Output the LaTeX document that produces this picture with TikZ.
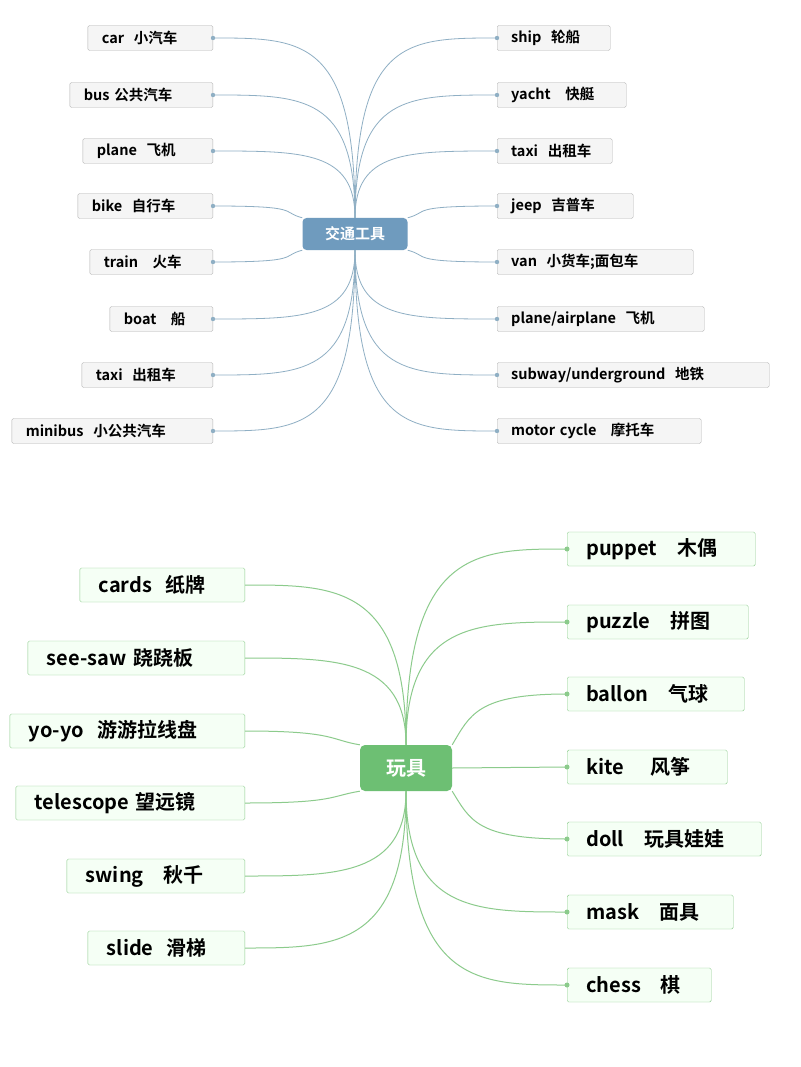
\documentclass[tikz,border=0pt]{standalone}
\usepackage{fontspec}
\setmainfont{Noto Sans CJK SC}[BoldFont={Noto Sans CJK SC Bold}]
\begin{document}
\definecolor{bl}{HTML}{6F9BBE}
\definecolor{bline}{HTML}{8FAFC4}
\definecolor{gr}{HTML}{6DBF73}
\definecolor{gline}{HTML}{8CCB8C}
\tikzset{
 lfa/.style={draw=gray!60, fill=gray!8, rounded corners=1.5pt, minimum height=25pt, inner xsep=14pt, text width=#1pt-28pt, align=left, font=\bfseries\fontsize{14.5}{16}\selectfont},
 lfb/.style={draw=gline, fill=green!4, rounded corners=1.5pt, minimum height=34pt, inner xsep=19pt, text width=#1pt-38pt, align=left, font=\bfseries\fontsize{20}{22}\selectfont},
 ca/.style={bline, line width=0.8pt},
 cb/.style={gline, line width=1pt}
}
\begin{tikzpicture}[x=1pt,y=-1pt]
\useasboundingbox[fill=white] (0,0) rectangle (800,1067);
\node[fill=bl, rounded corners=4pt, minimum width=105pt, minimum height=32pt, text=white, font=\bfseries\fontsize{15}{17}\selectfont] (c1) at (355,234) {交通工具};
\foreach \i/\y/\w/\t/\a/\c in {1/38/125/{car\ \ 小汽车}/north/{(355,38)}, 2/95/143/{bus\ 公共汽车}/north/{(355,95)}, 3/151/130/{plane\ \ 飞机}/north/{(355,151)}, 4/206/135/{bike\ \ 自行车}/north west/{(280,212)}, 5/262/123/{train\ \ \ 火车}/south west/{(280,256)}, 6/319/103/{boat\ \ \ 船}/south/{(355,319)}, 7/375/131/{taxi\ \ 出租车}/south/{(355,375)}, 8/431/201/{minibus\ \ 小公共汽车}/south/{(355,431)}}{
 \node[lfa=\w, anchor=east] (L\i) at (213,\y) {\t};
 \draw[ca] (L\i.east) .. controls +(90,0) and \c .. (c1.\a);
 \fill[bline] (L\i.east) circle (2.2);
}
\foreach \i/\y/\w/\t/\a/\c in {1/38/113/{ship\ \ 轮船}/north/{(355,38)}, 2/95/129/{yacht\ \ \ 快艇}/north/{(355,95)}, 3/151/115/{taxi\ \ 出租车}/north/{(355,151)}, 4/206/136/{jeep\ \ 吉普车}/north east/{(430,212)}, 5/262/196/{van\ \ 小货车;面包车}/south east/{(430,256)}, 6/319/207/{{plane/airplane}\ \ 飞机}/south/{(355,319)}, 7/375/272/{{subway/underground}\ \ 地铁}/south/{(355,375)}, 8/431/204/{motor cycle\ \ \ 摩托车}/south/{(355,431)}}{
 \node[lfa=\w, anchor=west] (R\i) at (497,\y) {\t};
 \draw[ca] (R\i.west) .. controls +(-90,0) and \c .. (c1.\a);
 \fill[bline] (R\i.west) circle (2.2);
}
\node[fill=gr, rounded corners=5pt, minimum width=92pt, minimum height=46pt, text=white, font=\bfseries\fontsize{20}{22}\selectfont] (c2) at (406,768) {玩具};
\foreach \i/\y/\w/\t/\a/\c in {1/585/165/{cards\ \ 纸牌}/north/{(406,585)}, 2/658/217/{see-saw\ 跷跷板}/north/{(406,658)}, 3/731/235/{yo-yo\ \ 游游拉线盘}/north west/{(330,740)}, 4/803/229/{telescope\ 望远镜}/south west/{(330,796)}, 5/876/178/{swing\ \ \ 秋千}/south/{(406,876)}, 6/948/157/{slide\ \ 滑梯}/south/{(406,948)}}{
 \node[lfb=\w, anchor=east] (B\i) at (245,\y) {\t};
 \draw[cb] (B\i.east) .. controls +(90,0) and \c .. (c2.\a);
}
\foreach \i/\y/\w/\t/\a/\c in {1/549/188/{puppet\ \ \ 木偶}/north/{(406,549)}, 2/622/181/{puzzle\ \ \ 拼图}/north/{(406,622)}, 3/694/177/{ballon\ \ \ 气球}/north east/{(470,715)}, 5/839/194/{doll\ \ \ 玩具娃娃}/south east/{(470,820)}, 6/912/166/{mask\ \ \ 面具}/south/{(406,912)}, 7/985/144/{chess\ \ \ 棋}/south/{(406,985)}}{
 \node[lfb=\w, anchor=west] (D\i) at (567,\y) {\t};
 \draw[cb] (D\i.west) .. controls +(-90,0) and \c .. (c2.\a);
 \fill[gline] (D\i.west) circle (2.5);
}
\node[lfb=160, anchor=west] (D4) at (567,767) {kite\ \ \ \ 风筝};
\draw[cb] (c2.east) -- (D4.west);
\fill[gline] (D4.west) circle (2.5);
\end{tikzpicture}
\end{document}
